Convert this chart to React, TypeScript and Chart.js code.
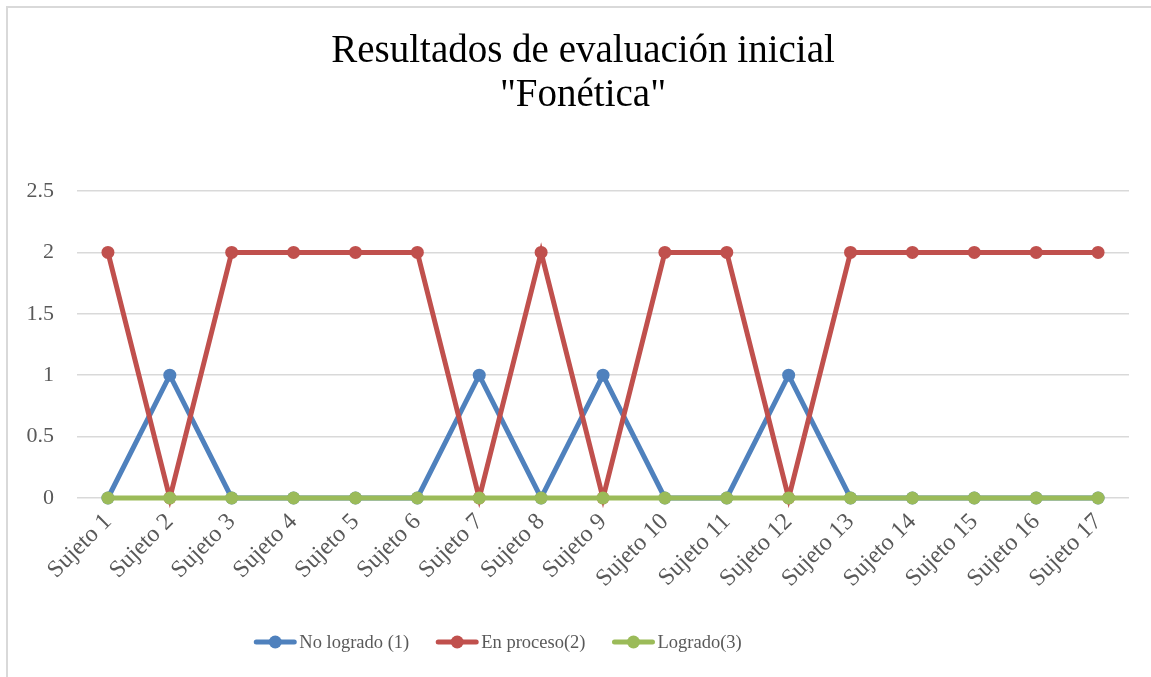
import React, { useEffect, useRef } from "react";
import { Chart, registerables } from "chart.js";

Chart.register(...registerables);

const categories = [
  "Sujeto 1", "Sujeto 2", "Sujeto 3", "Sujeto 4", "Sujeto 5", "Sujeto 6",
  "Sujeto 7", "Sujeto 8", "Sujeto 9", "Sujeto 10", "Sujeto 11", "Sujeto 12",
  "Sujeto 13", "Sujeto 14", "Sujeto 15", "Sujeto 16", "Sujeto 17",
];
const noLogrado = [0, 1, 0, 0, 0, 0, 1, 0, 1, 0, 0, 1, 0, 0, 0, 0, 0];
const enProceso = [2, 0, 2, 2, 2, 2, 0, 2, 0, 2, 2, 0, 2, 2, 2, 2, 2];
const logrado = [0, 0, 0, 0, 0, 0, 0, 0, 0, 0, 0, 0, 0, 0, 0, 0, 0];
const seriesNames = ["No logrado (1)", "En proceso(2)", "Logrado(3)"];
const titleLines = ["Resultados de evaluación inicial", "\"Fonética\""];
const yTicks = { min: 0, max: 2.5, step: 0.5 };

const FONT = "'Liberation Serif', serif";
const COLORS = ["#4F81BD", "#C0504D", "#9BBB59"];

export default function App() {
  const ref = useRef<HTMLCanvasElement | null>(null);

  useEffect(() => {
    if (!ref.current) return;

    const framePlugin = {
      id: "frame",
      beforeDraw(chart: any) {
        const ctx = chart.ctx;
        ctx.save();
        ctx.fillStyle = "#ffffff";
        ctx.fillRect(0, 0, chart.width, chart.height);
        ctx.strokeStyle = "#d9d9d9";
        ctx.lineWidth = 2;
        ctx.beginPath();
        ctx.moveTo(7, chart.height + 5);
        ctx.lineTo(7, 7);
        ctx.lineTo(chart.width + 5, 7);
        ctx.stroke();
        ctx.restore();
      },
    };

    const textPlugin = {
      id: "titleLegend",
      afterDraw(chart: any) {
        const ctx = chart.ctx;
        ctx.save();
        // title
        ctx.fillStyle = "#000000";
        ctx.font = `39px ${FONT}`;
        ctx.textAlign = "center";
        ctx.textBaseline = "alphabetic";
        titleLines.forEach((t, i) => ctx.fillText(t, 583, 62 + i * 44));

        // legend
        ctx.font = `18.5px ${FONT}`;
        ctx.textBaseline = "middle";
        ctx.textAlign = "left";
        const lineW = 42;
        const gap = 3;
        const itemGap = 27;
        const ds = chart.data.datasets;
        const widths = ds.map((d: any) => lineW + gap + ctx.measureText(d.label).width);
        const total = widths.reduce((a: number, b: number) => a + b, 0) + itemGap * (ds.length - 1);
        let x = 498 - total / 2;
        const y = 642;
        ds.forEach((d: any, i: number) => {
          ctx.strokeStyle = d.borderColor;
          ctx.lineWidth = 5;
          ctx.lineCap = "round";
          ctx.beginPath();
          ctx.moveTo(x + 2, y);
          ctx.lineTo(x + lineW - 2, y);
          ctx.stroke();
          ctx.fillStyle = d.borderColor;
          ctx.beginPath();
          ctx.arc(x + lineW / 2, y, 6.5, 0, Math.PI * 2);
          ctx.fill();
          ctx.fillStyle = "#595959";
          ctx.fillText(d.label, x + lineW + gap, y + 1);
          x += widths[i] + itemGap;
        });
        ctx.restore();
      },
    };

    const mk = (label: string, data: number[], color: string, order: number) => ({
      label,
      data,
      borderColor: color,
      backgroundColor: color,
      pointBackgroundColor: color,
      pointBorderColor: color,
      pointBorderWidth: 0,
      pointRadius: 6.5,
      borderWidth: 5,
      tension: 0,
      clip: false,
      order,
    });

    const chart = new Chart(ref.current, {
      type: "line",
      data: {
        labels: categories,
        datasets: [
          mk(seriesNames[0], noLogrado, COLORS[0], 2),
          mk(seriesNames[1], enProceso, COLORS[1], 1),
          mk(seriesNames[2], logrado, COLORS[2], 0),
        ],
      },
      options: {
        responsive: false,
        animation: false,
        layout: { padding: { top: 191, left: 10, right: 22, bottom: 79 } },
        plugins: {
          legend: { display: false },
          title: { display: false },
          tooltip: { enabled: false },
        },
        scales: {
          x: {
            offset: true,
            grid: { display: false },
            border: { display: false },
            ticks: {
              color: "#595959",
              font: { family: FONT, size: 24 },
              minRotation: 45,
              maxRotation: 45,
              autoSkip: false,
              padding: 2,
            },
            afterFit(scale: any) {
              scale.height = 100;
            },
          },
          y: {
            min: yTicks.min,
            max: yTicks.max,
            ticks: {
              stepSize: yTicks.step,
              color: "#595959",
              font: { family: FONT, size: 22 },
              padding: 23,
              callback: (v: any) => String(v),
            },
            grid: { color: "#d9d9d9", lineWidth: 1.5, drawTicks: false },
            border: { display: false },
            afterFit(scale: any) {
              scale.width = 67;
            },
          },
        },
      },
      plugins: [framePlugin, textPlugin],
    } as any);

    return () => chart.destroy();
  }, []);

  return (
    <div style={{ position: "absolute", left: 0, top: 0, width: 1151, height: 677 }}>
      <canvas ref={ref} width={1151} height={677} style={{ width: 1151, height: 677, display: "block" }} />
    </div>
  );
}
